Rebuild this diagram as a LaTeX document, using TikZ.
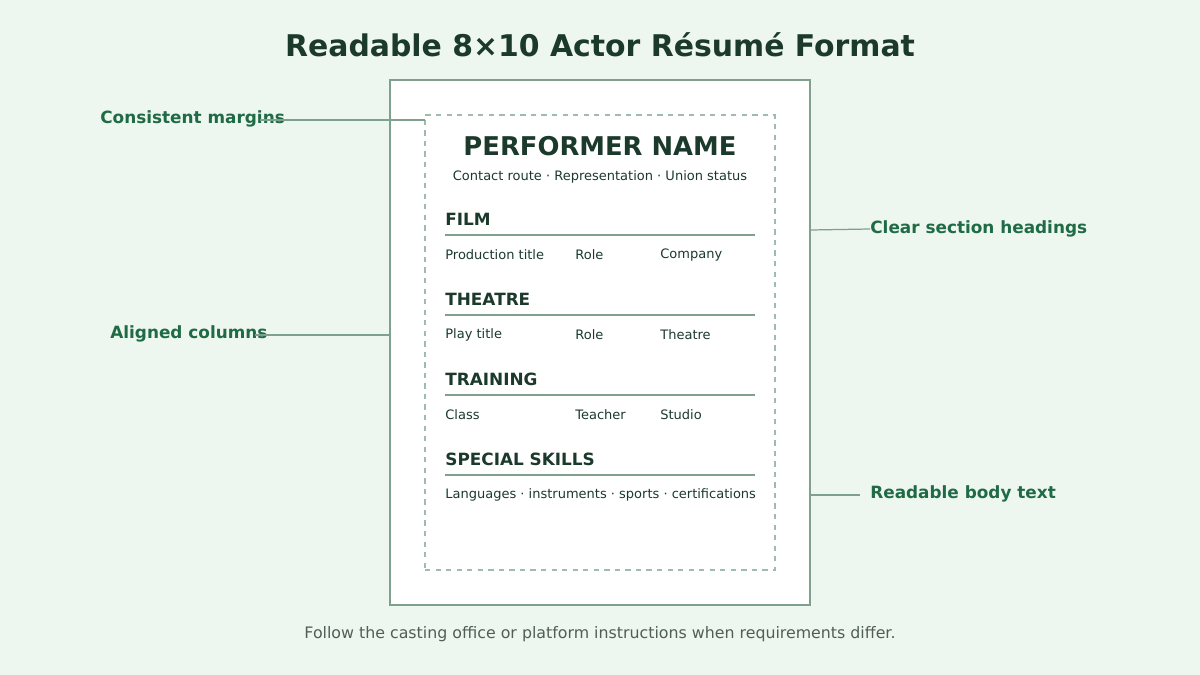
\documentclass[tikz,border=0pt]{standalone}
\usepackage{fontspec}
\setmainfont{DejaVu Sans}
\usetikzlibrary{positioning}
\definecolor{bgc}{HTML}{EEF6F0}
\definecolor{framec}{HTML}{7FA08D}
\definecolor{dashc}{HTML}{9DBCAB}
\definecolor{darkc}{HTML}{1B3A2B}
\definecolor{greenc}{HTML}{1F6B45}
\definecolor{footc}{HTML}{4F5F56}
\tikzset{
  head/.style={anchor=west, font=\fontsize{9.6}{11}\selectfont\bfseries, text=darkc, inner sep=0pt},
  cell/.style={anchor=west, font=\fontsize{7.4}{9}\selectfont, text=darkc, inner sep=0pt},
  callout/.style={font=\fontsize{9.6}{11}\selectfont\bfseries, text=greenc, inner sep=0pt},
  lead/.style={draw=framec, line width=0.7pt}
}
\begin{document}
\begin{tikzpicture}[x=0.02cm, y=-0.02cm]
  \fill[bgc] (0,0) rectangle (1200,675);
  \useasboundingbox (0,0) rectangle (1200,675);
  \node[font=\fontsize{17}{20}\selectfont\bfseries, text=darkc] (title) at (600,45) {Readable 8×10 Actor Résumé Format};
  % page and margins
  \node[draw=framec, fill=white, line width=0.9pt, minimum width=8.4cm, minimum height=10.5cm, inner sep=0pt] (page) at (600,342.5) {};
  \node[draw=dashc, dashed, line width=0.8pt, minimum width=7cm, minimum height=9.1cm, inner sep=0pt] (margin) at (600,342.5) {};
  \node[font=\fontsize{14.7}{17}\selectfont\bfseries, text=darkc] (name) at (600,146) {PERFORMER NAME};
  \node[font=\fontsize{7.4}{9}\selectfont, text=darkc] (contact) at (600,177) {Contact route · Representation · Union status};
  % sections
  \foreach \y/\h/\a/\b/\c in {219/FILM/Production title/Role/Company,
      299/THEATRE/Play title/Role/Theatre,
      379/TRAINING/Class/Teacher/Studio} {
    \node[head] at (445,\y) {\h};
    \draw[framec, line width=0.9pt] (445,\y+16) -- (755,\y+16);
    \node[cell] at (445,\y+36) {\a};
    \node[cell] at (575,\y+36) {\b};
    \node[cell] at (660,\y+36) {\c};
  }
  \node[head] (skills) at (445,459) {SPECIAL SKILLS};
  \draw[framec, line width=0.9pt] (445,475) -- (755,475);
  \node[cell] (skilltext) at (445,495) {Languages · instruments · sports · certifications};
  % callouts
  \coordinate (mcorner) at (425,120);
  \node[callout, anchor=west] (cmargins) at (100,119) {Consistent margins};
  \draw[lead] (260,120) -- (mcorner);
  \node[callout, anchor=west] (ccolumns) at (110,334) {Aligned columns};
  \draw[lead] (255,335) -- (page.west |- 0,335);
  \node[callout, anchor=west] (cheads) at (870,229) {Clear section headings};
  \draw[lead] (page.east |- 0,230) -- (cheads.west) ++(-10,0);
  \node[callout, anchor=west] (cbody) at (870,494) {Readable body text};
  \draw[lead] (page.east |- 0,495) -- (860,495);
  \node[font=\fontsize{9}{11}\selectfont, text=footc] (foot) at (600,634) {Follow the casting office or platform instructions when requirements differ.};
\end{tikzpicture}
\end{document}
